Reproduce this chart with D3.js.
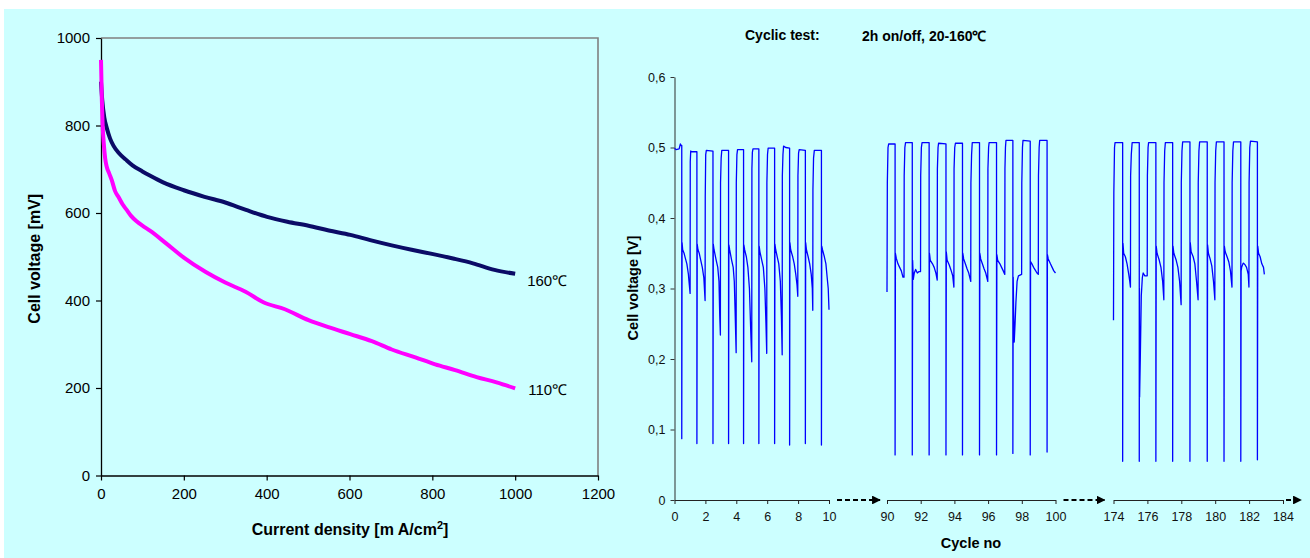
<!DOCTYPE html>
<html><head><meta charset="utf-8">
<script src="https://cdn.jsdelivr.net/npm/d3@7"></script>
<style>
html,body{margin:0;padding:0;background:#fff;}
svg{display:block;font-family:"Liberation Sans",Arial,sans-serif;}
</style></head>
<body>
<svg id="chart" width="1310" height="558"></svg>
<script>
// ---------- Left chart data: polarisation curves ----------
const currentTicks = [0, 200, 400, 600, 800, 1000, 1200];
const voltageTicksMV = [0, 200, 400, 600, 800, 1000];
const curve160I = [0, 3, 8, 14, 22, 30, 43, 60, 76, 100, 119, 150, 200, 250, 300, 350, 401, 450, 501, 550, 602, 650, 702, 750, 802, 850, 898, 950, 1000];
const curve160V = [900, 858, 818, 794, 770, 754, 737, 722, 709, 695, 685, 670, 652, 637, 624, 607, 591, 580, 571, 560, 550, 538, 526, 516, 506, 496, 485, 470, 461];
const curve110I = [0, 2, 4, 7, 10, 14, 20, 26, 34, 42, 52, 62, 72, 86, 100, 119, 158, 200, 253, 300, 349, 392, 444, 501, 549, 602, 654, 702, 759, 807, 855, 907, 955, 1000];
const curve110V = [950, 860, 800, 755, 725, 705, 690, 675, 650, 637, 620, 607, 594, 581, 571, 559, 530, 498, 465, 441, 420, 396, 380, 355, 339, 323, 307, 288, 270, 254, 241, 225, 213, 199];
const curveLabels = ["160\u2103", "110\u2103"];

// ---------- Right chart data: cyclic test (cycle no, cell voltage V) ----------
const cycleTicks1 = [0, 2, 4, 6, 8, 10];
const cycleTicks2 = [90, 92, 94, 96, 98, 100];
const cycleTicks3 = [174, 176, 178, 180, 182, 184];
const voltTicksV = [0, 0.1, 0.2, 0.3, 0.4, 0.5, 0.6];
const voltTickLabels = ["0", "0,1", "0,2", "0,3", "0,4", "0,5", "0,6"];

const cycles0to10 = [
 [0,0.499],[0.1,0.497],[0.3,0.498],[0.38,0.505],[0.42,0.503],[0.47,0.503],
 [0.47,0.087],[0.49,0.365],[0.53,0.355],[0.62,0.35],[0.7,0.343],[0.8,0.335],[0.9,0.32],[0.96,0.305],[1.01,0.293],
 [1.02,0.48],[1.05,0.495],[1.1,0.494],[1.45,0.494],
 [1.45,0.08],[1.47,0.363],[1.52,0.355],[1.6,0.35],[1.7,0.34],[1.8,0.33],[1.9,0.315],[1.98,0.283],
 [1.99,0.43],[2.02,0.49],[2.06,0.496],[2.49,0.495],
 [2.49,0.08],[2.51,0.363],[2.56,0.355],[2.7,0.34],[2.8,0.33],[2.88,0.31],[2.93,0.26],[2.97,0.234],
 [2.98,0.45],[3.02,0.485],[3.06,0.496],[3.5,0.496],
 [3.5,0.08],[3.52,0.362],[3.57,0.355],[3.7,0.34],[3.8,0.33],[3.87,0.31],[3.92,0.27],[3.99,0.209],
 [4.0,0.45],[4.04,0.49],[4.08,0.497],[4.47,0.497],
 [4.47,0.08],[4.49,0.362],[4.54,0.355],[4.65,0.345],[4.75,0.33],[4.85,0.3],[4.92,0.25],[5.0,0.196],
 [5.01,0.47],[5.04,0.493],[5.08,0.498],[5.46,0.498],
 [5.46,0.08],[5.48,0.36],[5.53,0.352],[5.65,0.34],[5.75,0.33],[5.85,0.3],[5.92,0.25],[5.97,0.208],
 [5.98,0.45],[6.02,0.49],[6.06,0.499],[6.48,0.499],
 [6.48,0.08],[6.5,0.363],[6.55,0.355],[6.65,0.345],[6.75,0.335],[6.85,0.31],[6.92,0.26],[6.97,0.206],
 [6.98,0.46],[7.02,0.49],[7.06,0.502],[7.2,0.5],[7.45,0.499],
 [7.45,0.078],[7.47,0.365],[7.52,0.355],[7.65,0.345],[7.75,0.335],[7.85,0.32],[7.93,0.305],[7.98,0.289],
 [7.99,0.46],[8.03,0.492],[8.07,0.497],[8.47,0.496],
 [8.47,0.08],[8.49,0.365],[8.54,0.355],[8.65,0.345],[8.75,0.335],[8.85,0.32],[8.92,0.3],[8.95,0.269],
 [8.96,0.44],[9.0,0.485],[9.05,0.496],[9.51,0.496],
 [9.51,0.078],[9.53,0.36],[9.58,0.355],[9.7,0.345],[9.8,0.335],[9.88,0.316],[9.95,0.3],[10.0,0.27]
];
const cycles90to100 = [
 [90.0,0.295],[90.02,0.45],[90.06,0.5],[90.1,0.505],[90.48,0.505],
 [90.48,0.064],[90.5,0.35],[90.55,0.343],[90.65,0.335],[90.75,0.33],[90.85,0.325],[90.95,0.316],
 [91.01,0.316],[91.02,0.46],[91.06,0.5],[91.1,0.507],[91.5,0.507],
 [91.5,0.064],[91.52,0.34],[91.56,0.313],[91.62,0.322],[91.7,0.327],[91.8,0.322],[91.9,0.324],[91.99,0.324],
 [92.0,0.46],[92.04,0.5],[92.08,0.507],[92.5,0.507],
 [92.5,0.064],[92.52,0.35],[92.57,0.34],[92.7,0.335],[92.8,0.33],[92.9,0.322],[92.98,0.312],
 [92.99,0.47],[93.03,0.5],[93.06,0.506],[93.5,0.505],
 [93.5,0.064],[93.52,0.352],[93.57,0.34],[93.7,0.333],[93.8,0.326],[93.9,0.318],[93.97,0.302],
 [93.98,0.47],[94.02,0.5],[94.06,0.506],[94.48,0.506],
 [94.48,0.064],[94.5,0.35],[94.55,0.342],[94.65,0.335],[94.75,0.328],[94.85,0.322],[94.97,0.31],
 [94.98,0.45],[95.02,0.49],[95.06,0.507],[95.49,0.507],
 [95.49,0.064],[95.51,0.35],[95.56,0.342],[95.66,0.335],[95.76,0.328],[95.86,0.322],[95.98,0.31],
 [95.99,0.47],[96.03,0.5],[96.06,0.507],[96.5,0.507],
 [96.5,0.064],[96.52,0.348],[96.57,0.34],[96.7,0.335],[96.8,0.33],[96.9,0.325],[96.99,0.32],
 [97.0,0.47],[97.03,0.5],[97.06,0.51],[97.47,0.51],
 [97.47,0.066],[97.49,0.316],[97.52,0.26],[97.55,0.224],[97.6,0.25],[97.65,0.28],[97.72,0.31],[97.8,0.318],[97.99,0.32],
 [98.0,0.45],[98.04,0.5],[98.07,0.51],[98.5,0.509],
 [98.5,0.064],[98.52,0.338],[98.6,0.335],[98.7,0.33],[98.8,0.326],[98.9,0.322],[98.98,0.32],
 [98.99,0.46],[99.03,0.5],[99.06,0.51],[99.5,0.51],
 [99.5,0.068],[99.52,0.348],[99.57,0.342],[99.7,0.335],[99.8,0.33],[99.9,0.325],[100.0,0.322]
];
const cycles174to184 = [
 [174.0,0.255],[174.02,0.435],[174.06,0.5],[174.09,0.507],[174.54,0.507],
 [174.54,0.055],[174.56,0.364],[174.6,0.35],[174.7,0.345],[174.8,0.335],[174.9,0.32],[174.96,0.31],[175.0,0.302],
 [175.01,0.46],[175.05,0.49],[175.1,0.507],[175.52,0.507],
 [175.52,0.055],[175.53,0.3],[175.54,0.146],[175.58,0.2],[175.64,0.29],[175.7,0.315],[175.75,0.322],[175.85,0.318],[175.99,0.318],
 [176.0,0.46],[176.04,0.5],[176.07,0.507],[176.5,0.507],
 [176.5,0.055],[176.52,0.36],[176.57,0.35],[176.7,0.34],[176.8,0.33],[176.9,0.31],[176.97,0.284],
 [176.98,0.45],[177.02,0.495],[177.06,0.507],[177.49,0.507],
 [177.49,0.055],[177.51,0.36],[177.56,0.35],[177.7,0.34],[177.8,0.33],[177.9,0.31],[177.99,0.277],
 [178.0,0.45],[178.04,0.495],[178.08,0.508],[178.51,0.508],
 [178.51,0.055],[178.53,0.365],[178.58,0.352],[178.7,0.345],[178.8,0.335],[178.9,0.31],[178.99,0.284],
 [179.0,0.45],[179.04,0.495],[179.08,0.508],[179.53,0.508],
 [179.53,0.055],[179.55,0.362],[179.6,0.35],[179.7,0.342],[179.8,0.332],[179.9,0.31],[179.98,0.284],
 [179.99,0.45],[180.03,0.495],[180.07,0.508],[180.52,0.508],
 [180.52,0.055],[180.54,0.36],[180.59,0.352],[180.7,0.345],[180.8,0.338],[180.9,0.325],[180.99,0.302],
 [181.0,0.45],[181.04,0.495],[181.08,0.508],[181.51,0.508],
 [181.51,0.055],[181.53,0.325],[181.56,0.33],[181.65,0.336],[181.75,0.334],[181.85,0.33],[181.95,0.32],[181.99,0.302],
 [182.0,0.45],[182.04,0.5],[182.08,0.509],[182.49,0.508],
 [182.49,0.057],[182.51,0.36],[182.56,0.35],[182.65,0.345],[182.75,0.335],[182.85,0.33],[182.9,0.32]
];

// ---------- Drawing ----------
const svg = d3.select("#chart");
svg.append("rect").attr("x", 4).attr("y", 9).attr("width", 1306).attr("height", 549).attr("fill", "#ccffff");

// ===== Left chart =====
const L = {left: 101, right: 598, top: 38, bottom: 475.5};
const xL = d3.scaleLinear().domain([0, 1200]).range([L.left, L.right]);
const yL = d3.scaleLinear().domain([0, 1000]).range([L.bottom, L.top]);
const gL = svg.append("g");

// frame top & right (grey)
gL.append("path")
  .attr("d", `M${xL(0)},${yL(1000)}H${xL(1200)}V${yL(0)}`)
  .attr("fill", "none").attr("stroke", "#808080").attr("stroke-width", 1.6);

const axL = gL.append("g").attr("transform", `translate(0,${yL(0)})`)
  .call(d3.axisBottom(xL).tickValues(currentTicks).tickSize(5).tickSizeOuter(0).tickPadding(8).tickFormat(d3.format("d")));
const ayL = gL.append("g").attr("transform", `translate(${xL(0)},0)`)
  .call(d3.axisLeft(yL).tickValues(voltageTicksMV).tickSize(5).tickSizeOuter(0).tickPadding(6).tickFormat(d3.format("d")));
[axL, ayL].forEach(a => {
  a.selectAll("path.domain").attr("stroke", "#000").attr("stroke-width", 1.3);
  a.selectAll(".tick line").attr("stroke", "#000").attr("stroke-width", 1.2);
  a.selectAll(".tick text").attr("font-size", 15).attr("fill", "#000").attr("font-family", "Liberation Sans, Arial, sans-serif");
});

const lineL = d3.line().x(d => xL(d[0])).y(d => yL(d[1])).curve(d3.curveMonotoneX);
gL.append("path").datum(curve160I.map((c, i) => [c, curve160V[i]]))
  .attr("d", lineL).attr("fill", "none").attr("stroke", "#0b0b66").attr("stroke-width", 4).attr("stroke-linejoin", "round");
gL.append("path").datum(curve110I.map((c, i) => [c, curve110V[i]]))
  .attr("d", lineL).attr("fill", "none").attr("stroke", "#ff00ff").attr("stroke-width", 4).attr("stroke-linejoin", "round");

gL.append("text").attr("x", xL(1000) + 12).attr("y", yL(curve160V[curve160V.length - 1]) + 12)
  .attr("font-size", 15).text(curveLabels[0]);
gL.append("text").attr("x", xL(1000) + 13).attr("y", yL(curve110V[curve110V.length - 1]) + 7)
  .attr("font-size", 15).text(curveLabels[1]);

gL.append("text").attr("transform", `translate(40,${(L.top + L.bottom) / 2 + 2}) rotate(-90)`)
  .attr("text-anchor", "middle").attr("font-size", 16).attr("font-weight", "bold").text("Cell voltage [mV]");
const xt = gL.append("text").attr("x", 350).attr("y", 535).attr("text-anchor", "middle")
  .attr("font-size", 16).attr("font-weight", "bold");
xt.append("tspan").text("Current density [m A/cm");
xt.append("tspan").attr("font-size", 11).attr("dy", -6).text("2");
xt.append("tspan").attr("dy", 6).text("]");

// ===== Right chart =====
const R = {top: 77, bottom: 500};
const yR = d3.scaleLinear().domain([0, 0.6]).range([R.bottom, R.top]);
const xR1 = d3.scaleLinear().domain([0, 10]).range([674.5, 829]);
const xR2 = d3.scaleLinear().domain([90, 100]).range([887, 1055.5]);
const xR3 = d3.scaleLinear().domain([174, 184]).range([1113.5, 1283]);
const gR = svg.append("g");

const ayR = gR.append("g").attr("transform", `translate(${xR1(0)},0)`)
  .call(d3.axisLeft(yR).tickValues(voltTicksV).tickSize(4).tickSizeOuter(0).tickPadding(5)
    .tickFormat((d, i) => voltTickLabels[i]));
ayR.selectAll("path.domain").attr("stroke", "#5a6a6a").attr("stroke-width", 1.4);
ayR.selectAll(".tick line").attr("stroke", "#333");
ayR.selectAll(".tick text").attr("font-size", 12.5).attr("fill", "#111").attr("font-family", "Liberation Sans, Arial, sans-serif");

[[xR1, cycleTicks1], [xR2, cycleTicks2], [xR3, cycleTicks3]].forEach(([sc, tv]) => {
  const a = gR.append("g").attr("transform", `translate(0,${yR(0)})`)
    .call(d3.axisBottom(sc).tickValues(tv).tickSize(4).tickSizeOuter(0).tickPadding(8).tickFormat(d3.format("d")));
  a.selectAll("path.domain").attr("stroke", "#222").attr("stroke-width", 1.2);
  a.selectAll(".tick line").attr("stroke", "#222");
  a.selectAll(".tick text").attr("font-size", 12.5).attr("fill", "#111").attr("font-family", "Liberation Sans, Arial, sans-serif");
});

// dashed break arrows
const defs = svg.append("defs");
defs.append("marker").attr("id", "ah").attr("viewBox", "0 0 10 10").attr("refX", 9).attr("refY", 5)
  .attr("markerWidth", 4).attr("markerHeight", 4).attr("markerUnits", "strokeWidth").attr("orient", "auto")
  .append("path").attr("d", "M0,0L10,5L0,10Z").attr("fill", "#000");
[[xR1(10) + 8, xR2(90) - 7], [xR2(100) + 8, xR3(174) - 9], [xR3(184) + 3, xR3(184) + 18]].forEach(([a, b]) => {
  gR.append("line").attr("x1", a).attr("x2", b).attr("y1", yR(0)).attr("y2", yR(0))
    .attr("stroke", "#000").attr("stroke-width", 2.2).attr("stroke-dasharray", "5,3")
    .attr("marker-end", "url(#ah)");
});

// traces
[[xR1, cycles0to10], [xR2, cycles90to100], [xR3, cycles174to184]].forEach(([sc, data]) => {
  gR.append("path").datum(data)
    .attr("d", d3.line().x(d => sc(d[0])).y(d => yR(d[1])))
    .attr("fill", "none").attr("stroke", "#0000ff").attr("stroke-width", 1.3).attr("stroke-linejoin", "round");
});

gR.append("text").attr("transform", `translate(638,288) rotate(-90)`)
  .attr("text-anchor", "middle").attr("font-size", 14.5).attr("font-weight", "bold").text("Cell voltage [V]");
gR.append("text").attr("x", 971).attr("y", 548).attr("text-anchor", "middle")
  .attr("font-size", 14.5).attr("font-weight", "bold").text("Cycle no");
gR.append("text").attr("x", 745).attr("y", 40).attr("font-size", 14).attr("font-weight", "bold").text("Cyclic test:");
gR.append("text").attr("x", 862).attr("y", 41).attr("font-size", 14).attr("font-weight", "bold").text("2h on/off, 20-160\u2103");
</script>
</body></html>
